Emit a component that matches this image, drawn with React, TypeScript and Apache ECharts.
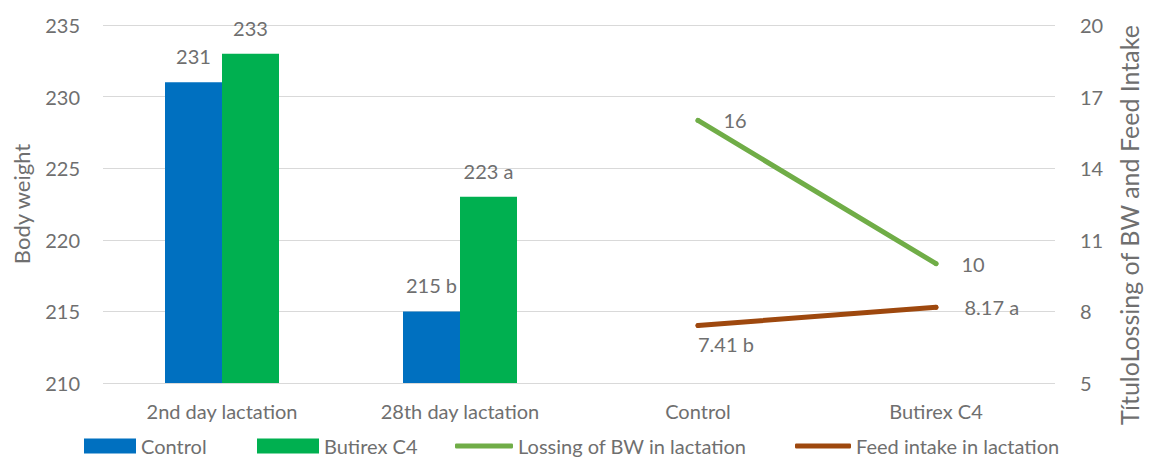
import React, { useEffect, useRef } from "react";
import * as echarts from "echarts";

const categories = ["2nd day lactation", "28th day lactation", "Control", "Butirex C4"];
const controlBW = [231, 215, null, null];
const controlSig = ["", "b", "", ""];
const butirexBW = [233, 223, null, null];
const butirexSig = ["", "a", "", ""];
const lossBW = [null, null, 16, 10];
const feedIntake = [null, null, 7.41, 8.17];
const feedSig = ["", "", "b", "a"];

const FONT = "Lato";
const GREY = "#6f6f6f";
const FS = 20;

export default function App() {
  const ref = useRef<HTMLDivElement>(null);
  useEffect(() => {
    if (!ref.current) return;
    const chart = echarts.init(ref.current, undefined, { renderer: "svg" });
    const fmt = (sig: string[]) => (p: any) =>
      sig[p.dataIndex] ? `${p.value} ${sig[p.dataIndex]}` : `${p.value}`;
    const legendBase = {
      top: 431,
      itemGap: 5,
      textStyle: { color: GREY, fontFamily: FONT, fontSize: FS, padding: [0, 0, 0, 0] },
      selectedMode: false,
    };
    chart.setOption({
      animation: false,
      textStyle: { fontFamily: FONT },
      grid: { left: 103, right: 89, top: 25, bottom: 74 },
      legend: [
        { ...legendBase, left: 79, itemWidth: 52, itemHeight: 15, icon: "rect", data: ["Control"] },
        { ...legendBase, left: 252, itemWidth: 62, itemHeight: 15, icon: "rect", data: ["Butirex C4"] },
        {
          ...legendBase,
          left: 450,
          itemWidth: 58,
          itemHeight: 5,
          icon: "roundRect",
          data: ["Lossing of BW in lactation"],
        },
        {
          ...legendBase,
          left: 790,
          itemWidth: 56,
          itemHeight: 5,
          icon: "roundRect",
          data: ["Feed intake in lactation"],
        },
      ],
      xAxis: {
        type: "category",
        data: categories,
        axisLine: { show: false },
        axisTick: { show: false },
        axisLabel: { color: GREY, fontFamily: FONT, fontSize: FS, margin: 18 },
      },
      yAxis: [
        {
          type: "value",
          min: 210,
          max: 235,
          interval: 5,
          name: "Body weight",
          nameLocation: "middle",
          nameGap: 71,
          nameTextStyle: { color: GREY, fontFamily: FONT, fontSize: 22 },
          axisLine: { show: false },
          axisTick: { show: false },
          axisLabel: { color: GREY, fontFamily: FONT, fontSize: FS, margin: 23 },
          splitLine: { lineStyle: { color: "#d9d9d9", width: 1 } },
        },
        {
          type: "value",
          min: 5,
          max: 20,
          interval: 3,
          name: "TítuloLossing of BW and Feed Intake",
          nameLocation: "middle",
          nameGap: 61,
          nameTextStyle: {
            color: GREY,
            fontFamily: FONT,
            fontSize: 25,
            padding: [0, 42, 0, 0],
          },
          axisLine: { show: false },
          axisTick: { show: false },
          axisLabel: { color: GREY, fontFamily: FONT, fontSize: FS, margin: 25 },
          splitLine: { show: false },
        },
      ],
      series: [
        {
          name: "Control",
          type: "bar",
          data: controlBW,
          barWidth: 57,
          barGap: "0%",
          itemStyle: { color: "#0070C0" },
          label: {
            show: true,
            position: "top",
            distance: 16,
            color: GREY,
            fontFamily: FONT,
            fontSize: FS,
            formatter: fmt(controlSig),
          },
        },
        {
          name: "Butirex C4",
          type: "bar",
          data: butirexBW,
          barWidth: 57,
          barGap: "0%",
          itemStyle: { color: "#00B050" },
          label: {
            show: true,
            position: "top",
            distance: 16,
            color: GREY,
            fontFamily: FONT,
            fontSize: FS,
            formatter: fmt(butirexSig),
          },
        },
        {
          name: "Lossing of BW in lactation",
          type: "line",
          yAxisIndex: 1,
          data: lossBW,
          symbol: "circle",
          symbolSize: 5,
          itemStyle: { color: "#70AD47" },
          lineStyle: { color: "#70AD47", width: 5, cap: "round" },
          label: {
            show: true,
            position: "right",
            distance: 23,
            color: GREY,
            fontFamily: FONT,
            fontSize: FS,
          },
        },
        {
          name: "Feed intake in lactation",
          type: "line",
          yAxisIndex: 1,
          data: feedIntake,
          symbol: "circle",
          symbolSize: 5,
          itemStyle: { color: "#9E480E" },
          lineStyle: { color: "#9E480E", width: 5, cap: "round" },
          label: {
            show: true,
            position: "right",
            distance: 26,
            color: GREY,
            fontFamily: FONT,
            fontSize: FS,
            formatter: fmt(feedSig),
          },
          labelLayout: (p: any) =>
            p.dataIndex === 2 ? { x: 698, y: 334, align: "left", verticalAlign: "top" } : {},
        },
      ],
    });
    return () => chart.dispose();
  }, []);
  return (
    <div
      ref={ref}
      style={{ position: "fixed", left: 0, top: 0, width: 1149, height: 457, background: "#fff" }}
    />
  );
}
